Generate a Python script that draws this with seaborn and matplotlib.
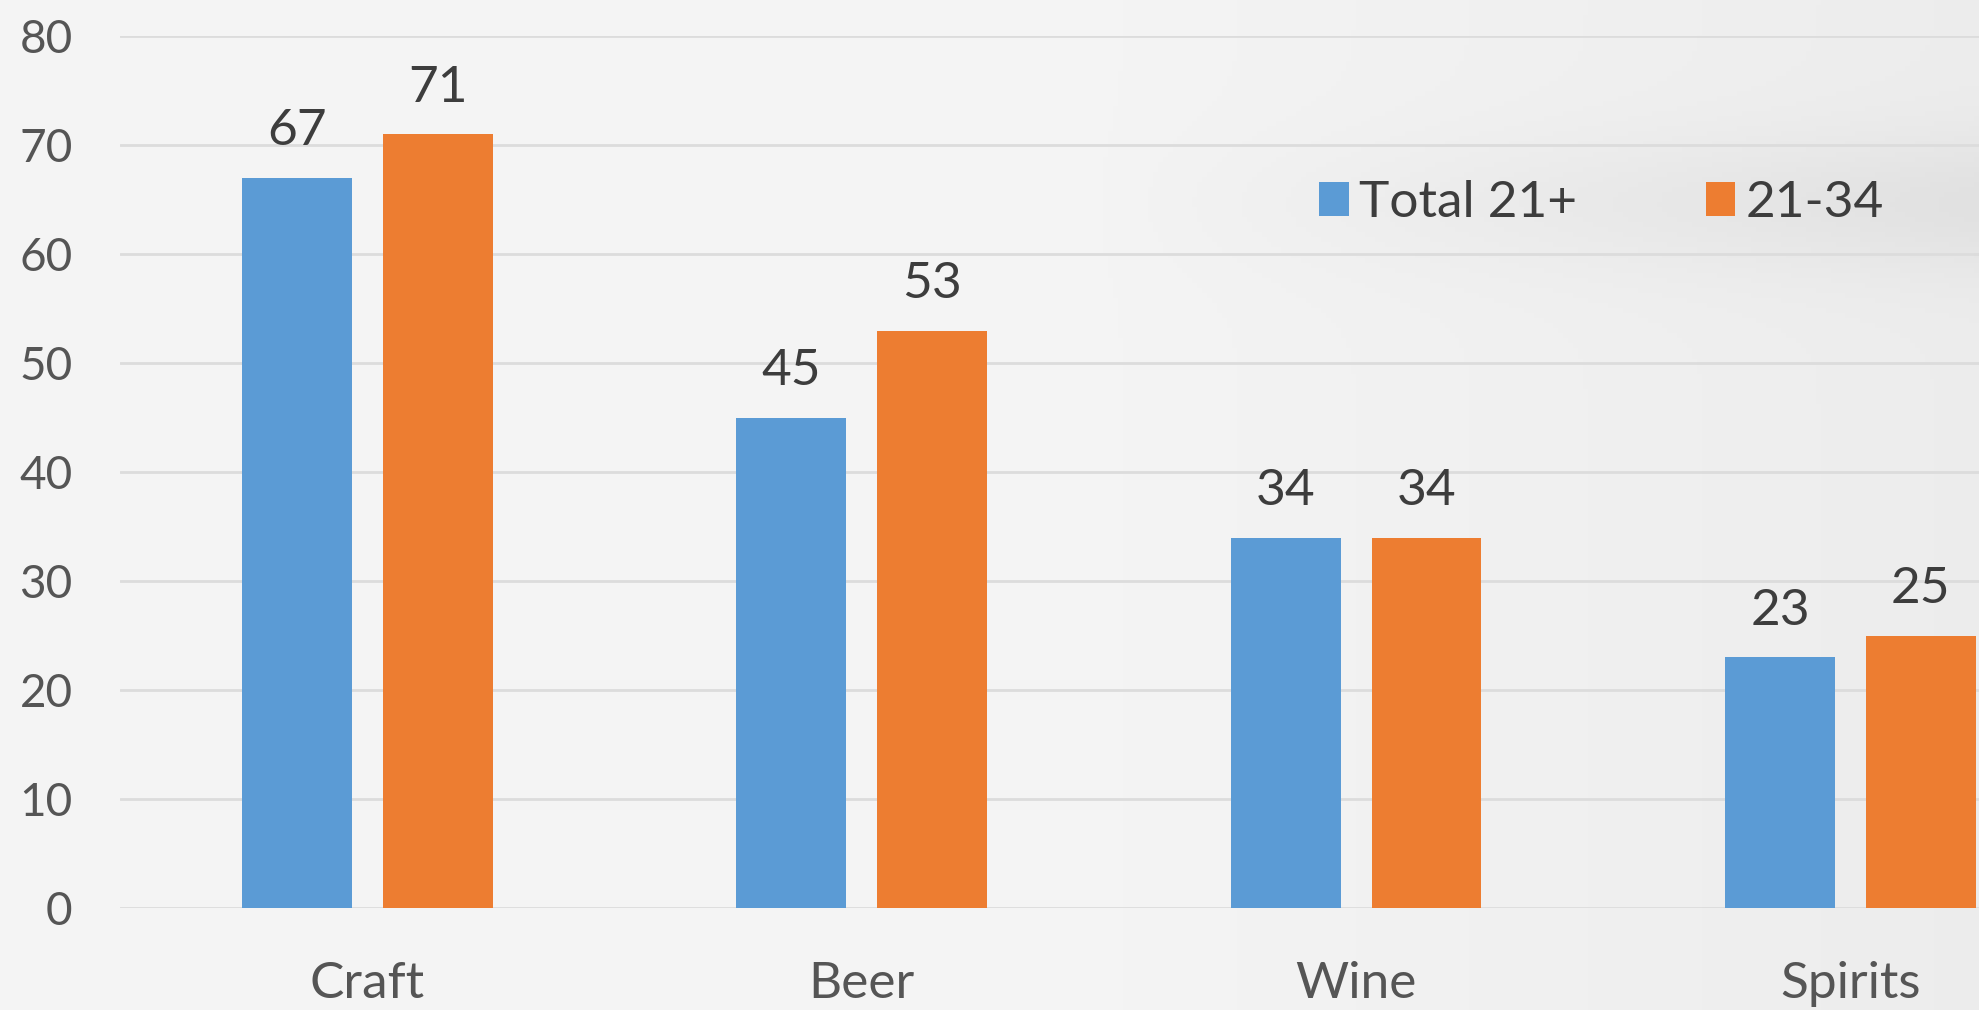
import numpy as np
import pandas as pd
import matplotlib
matplotlib.use("Agg")
import matplotlib.pyplot as plt
import seaborn as sns

# Share of drinkers (%) by beverage category
categories = ["Craft", "Beer", "Wine", "Spirits"]
groups = ["Total 21+", "21-34"]
total_21_plus = [67, 45, 34, 23]
age_21_34 = [71, 53, 34, 25]
y_ticks = [0, 10, 20, 30, 40, 50, 60, 70, 80]

colors = ["#5B9BD5", "#ED7D31"]
text_dark = "#3d3d3d"
tick_grey = "#555555"

df = pd.DataFrame({
    "category": categories * 2,
    "group": [groups[0]] * 4 + [groups[1]] * 4,
    "value": total_21_plus + age_21_34,
})

sns.set_theme(style="white")
plt.rcParams["font.family"] = ["Lato", "DejaVu Sans"]

fig = plt.figure(figsize=(19.79, 10.10), dpi=100)
fig.patch.set_facecolor("#f3f3f3")

# soft backdrop: light on the left, a touch greyer toward the upper right
bg = fig.add_axes([0, 0, 1, 1], zorder=-10)
gx = np.linspace(0, 1, 400)
gy = np.linspace(0, 1, 200)
X, Y = np.meshgrid(gx, gy)
ramp = np.clip((X - 0.55) / 0.45, 0, 1)
shade = 0.958 - 0.03 * ramp
shade -= 0.045 * np.exp(-((Y - 0.80) / 0.07) ** 2) * ramp
bg.imshow(np.dstack([shade] * 3), extent=[0, 1, 0, 1], aspect="auto", origin="lower")
bg.set_axis_off()

ax = fig.add_axes([0.0606, 0.101, 0.9394, 0.863])
ax.set_facecolor("none")

sns.barplot(data=df, x="category", y="value", hue="group", palette=colors,
            width=0.57, gap=0.22, saturation=1, ax=ax, legend=True, zorder=3,
            edgecolor="none", linewidth=0)

ax.set_xlim(-0.5, 3.26)
ax.set_ylim(0, 80)
ax.set_yticks(y_ticks)
ax.yaxis.grid(True, color="#dcdcdc", linewidth=2, zorder=0)
ax.set_axisbelow(True)
for s in ax.spines.values():
    s.set_visible(False)
ax.set_xlabel("")
ax.set_ylabel("")
ax.tick_params(axis="y", length=0, pad=34, labelsize=33, labelcolor=tick_grey)
ax.tick_params(axis="x", length=0, pad=38, labelsize=37, labelcolor=tick_grey)

for cont in ax.containers:
    ax.bar_label(cont, fmt="%d", padding=17, fontsize=37, color=text_dark)

handles, labels = ax.get_legend_handles_labels()
ax.legend(handles, labels, loc="center left", bbox_to_anchor=(0.6665, 0.799),
          bbox_transform=fig.transFigure, ncol=2, frameon=False, fontsize=37,
          handlelength=0.58, handleheight=0.62, handletextpad=0.2,
          columnspacing=2.5, borderpad=0, borderaxespad=0, labelcolor=text_dark)

fig.savefig("out.png", dpi=100, facecolor=fig.get_facecolor())
